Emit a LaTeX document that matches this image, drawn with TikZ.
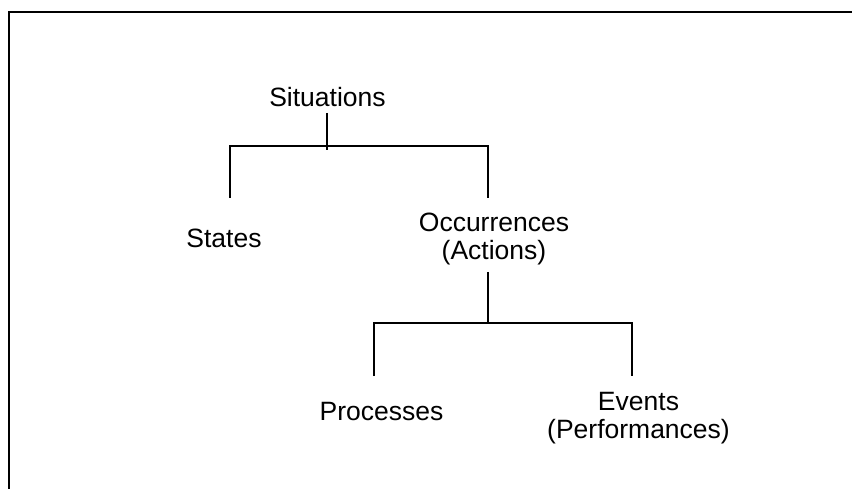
\documentclass[tikz,border=0pt]{standalone}
\usepackage{fontspec}
\setmainfont{Liberation Sans}
\begin{document}
\begin{tikzpicture}[x=1pt,y=-1pt,
  lbl/.style={anchor=base,inner sep=0pt,align=center,font=\fontsize{26.5}{27.5}\selectfont,text=black},
  tree/.style={line width=1.4pt,black},
  frame/.style={line width=2pt,black}]
\useasboundingbox[fill=white] (0,0) rectangle (852,489);
% frame (top and left edges only)
\coordinate (fbl) at (8.5,489);
\coordinate (ftl) at (8.5,12);
\coordinate (ftr) at (852,12);
\draw[frame] (fbl) -- (ftl) -- (ftr);
% labels (base anchor = baseline of last line)
\node[lbl] (sit) at (327.5,107) {Situations};
\node[lbl] (states) at (224,248) {States};
\node[lbl] (occ) at (494,259.5) {Occurrences\\(Actions)};
\node[lbl] (proc) at (381.5,420) {Processes};
\node[lbl] (ev) at (638.5,438) {Events\\(Performances)};
% upper tree
\coordinate (s0) at (327,113);
\coordinate (s1) at (327,150);
\coordinate (a1) at (230,146);
\coordinate (a2) at (488,146);
\coordinate (a1b) at (230,198);
\coordinate (a2b) at (488,198);
\draw[tree] (s0) -- (s1);
\draw[tree] (a1b) -- (a1) -- (a2) -- (a2b);
% lower tree
\coordinate (o0) at (488,272);
\coordinate (o1) at (488,323);
\coordinate (b1) at (374,323);
\coordinate (b2) at (632,323);
\coordinate (b1b) at (374,376);
\coordinate (b2b) at (632,376);
\draw[tree] (o0) -- (o1);
\draw[tree] (b1b) -- (b1) -- (b2) -- (b2b);
\end{tikzpicture}
\end{document}
